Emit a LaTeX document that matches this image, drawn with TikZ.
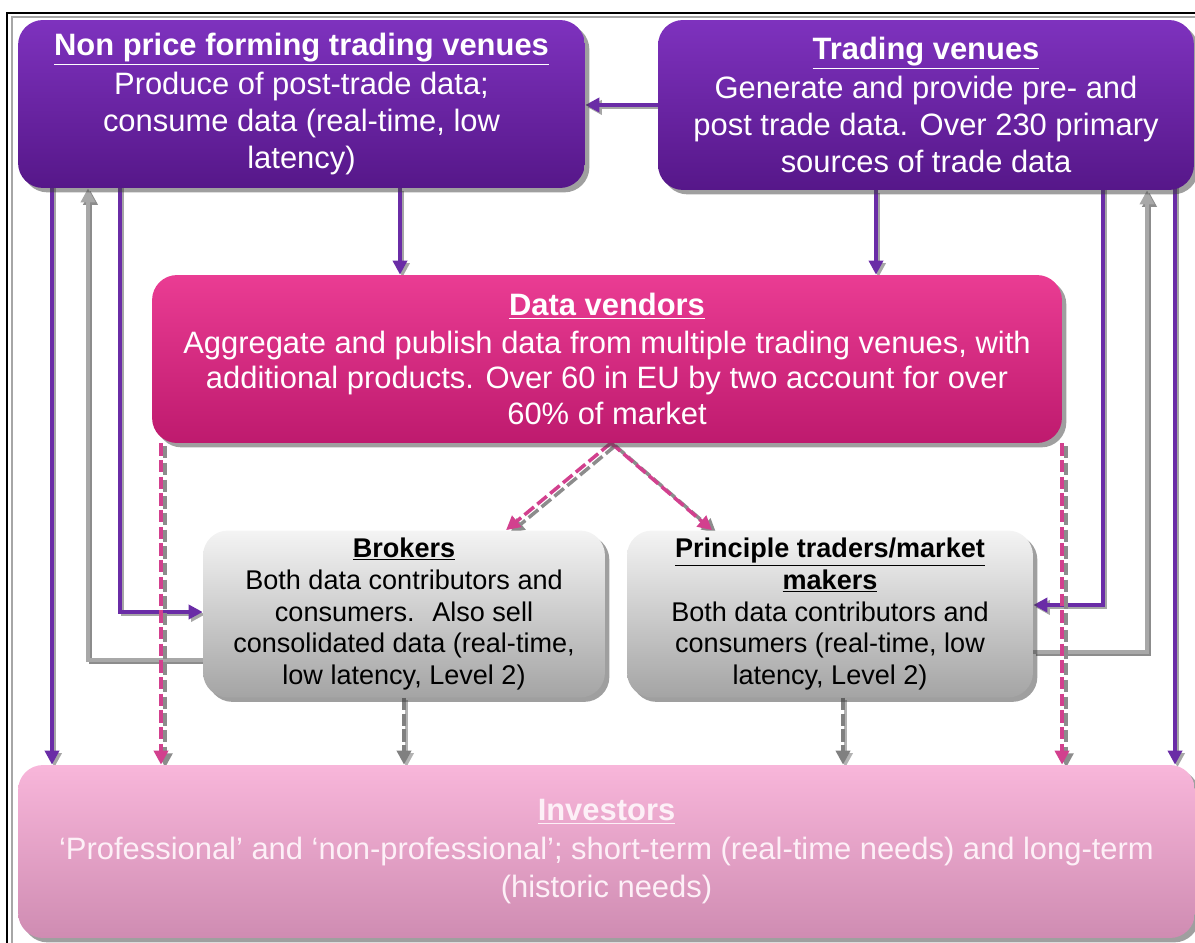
\documentclass[tikz,border=0pt]{standalone}
\usepackage{fontspec}
\setmainfont{Liberation Sans}
\usetikzlibrary{arrows.meta,shadows,calc}
\definecolor{purpT}{HTML}{7E32BE}
\definecolor{purpB}{HTML}{561789}
\definecolor{magT}{HTML}{EA3C93}
\definecolor{magB}{HTML}{BE1A6E}
\definecolor{grayT}{HTML}{F4F4F4}
\definecolor{grayB}{HTML}{A4A4A4}
\definecolor{invT}{HTML}{F8B6DA}
\definecolor{invB}{HTML}{CF8CB2}
\definecolor{lineP}{HTML}{6A2CA6}
\definecolor{lineG}{HTML}{A8A8A8}
\definecolor{lineK}{HTML}{D2408E}
\definecolor{invText}{HTML}{FDF0F7}
\pgfdeclarelayer{bg}
\pgfsetlayers{bg,main}
\begin{document}
\begin{tikzpicture}[x=0.02cm,y=-0.02cm,
  boxbase/.style={rounded corners=0.5cm, align=center, inner sep=0pt,
    drop shadow={shadow xshift=2.5pt,shadow yshift=-2.5pt,opacity=0.5,fill=black!75}},
  pbox/.style={boxbase, top color=purpT, bottom color=purpB, draw=none, text=white,
    font=\fontsize{17.6}{21.2}\selectfont},
  mbox/.style={boxbase, top color=magT, bottom color=magB, draw=none, text=white,
    font=\fontsize{17.6}{20.2}\selectfont},
  gbox/.style={boxbase, top color=grayT, bottom color=grayB, draw=none, text=black,
    font=\fontsize{15.4}{18.2}\selectfont},
  ibox/.style={boxbase, top color=invT, bottom color=invB, draw=none, text=invText,
    font=\fontsize{17.6}{21.5}\selectfont},
  tip/.style={-{Triangle[length=8pt,width=8pt]}},
  parrow/.style={draw=lineP, line width=2.2pt, tip,
    preaction={draw=black!35, line width=2.2pt, tip, transform canvas={xshift=1.4pt,yshift=-1.4pt}}},
  garrow/.style={draw=lineG, line width=2.2pt, tip,
    preaction={draw=black!45, line width=2.2pt, tip, transform canvas={xshift=1.4pt,yshift=-1.4pt}}},
  darrow/.style={draw=lineK, line width=2pt, dash pattern=on 7pt off 2.5pt, tip,
    preaction={draw=black!45, line width=2pt, dash pattern=on 7pt off 2.5pt, tip, transform canvas={xshift=2.4pt,yshift=-1.6pt}}},
  gdarrow/.style={draw=black!50, line width=2.2pt, dash pattern=on 7pt off 2pt, tip,
    preaction={draw=black!30, line width=2.2pt, tip, transform canvas={xshift=1.4pt,yshift=-1.4pt}}},
]
\useasboundingbox (0,0) rectangle (1195,942);
\draw[black, line width=0.8pt] (7,13) rectangle (1210,955);
\draw[black!35, line width=0.6pt] (12,17) rectangle (1205,950);

\node[pbox, minimum width=11.34cm, minimum height=3.36cm] (npf) at (301.5,104)
  {\underline{\textbf{Non price forming trading venues}}\\[1pt] Produce of post-trade data;\\ consume data (real-time, low\\ latency)};
\node[pbox, minimum width=10.72cm, minimum height=3.4cm] (tv) at (926,105)
  {\underline{\textbf{Trading venues}}\\[1pt] Generate and provide pre- and\\ post trade data. Over 230 primary\\ sources of trade data};
\node[mbox, minimum width=18.2cm, minimum height=3.36cm] (dv) at (607,359)
  {\underline{\textbf{Data vendors}}\\[1pt] Aggregate and publish data from multiple trading venues, with\\ additional products. Over 60 in EU by two account for over\\ 60\% of market};
\node[gbox, minimum width=8.04cm, minimum height=3.34cm] (br) at (404,614)
  {\underline{\textbf{Brokers}}\\ Both data contributors and\\ consumers.~ Also sell\\ consolidated data (real-time,\\ low latency, Level 2)};
\node[gbox, minimum width=8.12cm, minimum height=3.34cm] (pt) at (830,614)
  {\underline{\textbf{Principle traders/market}}\\ \underline{\textbf{makers}}\\ Both data contributors and\\ consumers (real-time, low\\ latency, Level 2)};
\node[ibox, minimum width=23.54cm, minimum height=3.46cm] (inv) at (606.5,851.5)
  {\underline{\textbf{Investors}}\\[1pt] ‘Professional’ and ‘non-professional’; short-term (real-time needs) and long-term\\ (historic needs)};

\coordinate (xA) at (400,0);
\coordinate (xB) at (876,0);
\coordinate (xL1) at (52,0);
\coordinate (xL2) at (88,0);
\coordinate (xL3) at (120,0);
\coordinate (yP) at (0,612);
\coordinate (yG) at (0,660);
\coordinate (xR1) at (1103,0);
\coordinate (xR2) at (1147,0);
\coordinate (xR3) at (1175,0);
\coordinate (yP2) at (0,605);
\coordinate (yG2) at (0,652);
\coordinate (xD1) at (161,0);
\coordinate (xD2) at (1062,0);
\coordinate (dvb) at (611,443);
\coordinate (xBr) at (506,0);
\coordinate (xPt) at (712,0);
\coordinate (xG1) at (404,0);
\coordinate (xG2) at (843,0);
\coordinate (yTop) at (0,180);

\begin{pgfonlayer}{bg}
\draw[parrow] (tv.west) -- (tv.west -| npf.east);
\draw[parrow] (npf.south -| xA) -- (dv.north -| xA);
\draw[parrow] (tv.south -| xB) -- (dv.north -| xB);
\draw[parrow] (yTop -| xL1) -- (inv.north -| xL1);
\draw[garrow] (br.west |- yG) -| (npf.south -| xL2);
\draw[parrow] (yTop -| xL3) |- (br.west |- yP);
\draw[parrow] (yTop -| xR1) |- (pt.east |- yP2);
\draw[garrow] (pt.east |- yG2) -| (tv.south -| xR2);
\draw[parrow] (yTop -| xR3) -- (inv.north -| xR3);
\draw[darrow] (dv.south -| xD1) -- (inv.north -| xD1);
\draw[darrow] (dv.south -| xD2) -- (inv.north -| xD2);
\draw[darrow] (dvb) -- (br.north -| xBr);
\draw[darrow] (dvb) -- (pt.north -| xPt);
\draw[gdarrow] (br.south -| xG1) -- (inv.north -| xG1);
\draw[gdarrow] (pt.south -| xG2) -- (inv.north -| xG2);
\end{pgfonlayer}
\end{tikzpicture}
\end{document}
